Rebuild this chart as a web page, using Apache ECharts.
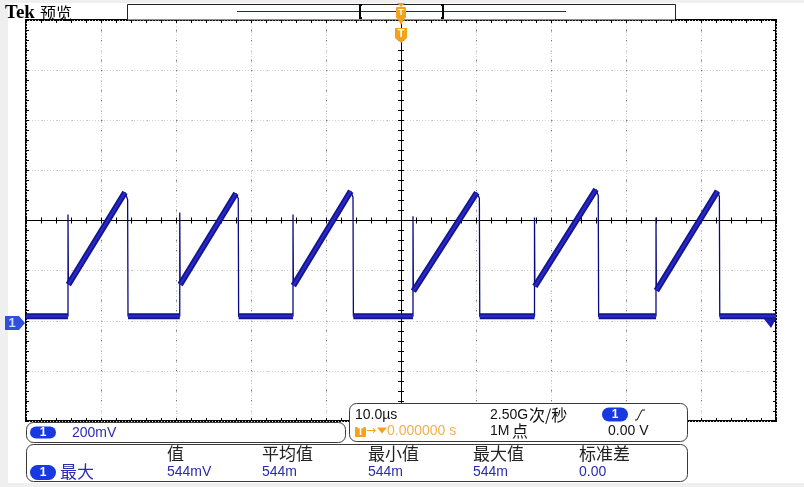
<!DOCTYPE html>
<html>
<head>
<meta charset="utf-8">
<title>Tek 预览</title>
<script src="https://cdn.jsdelivr.net/npm/echarts@6.0.0/dist/echarts.min.js"></script>
<style>
  html, body { margin: 0; padding: 0; background: #fff; }
  #scope { width: 804px; height: 487px; }
</style>
</head>
<body>
<div id="scope"></div>
<script>
// 10.0us/div x 10 div, trigger at centre
var timeTicks = [-50, -40, -30, -20, -10, 0, 10, 20, 30, 40, 50];
// 200mV/div x 8 div, ch1 ground sits 2 div below centre
var voltTicks = [-0.4, -0.2, 0, 0.2, 0.4, 0.6, 0.8, 1.0, 1.2];
var divTicks = [-4, -3, -2, -1, 0, 1, 2, 3, 4];

// ch1 sawtooth (us, V)
var baseLevel = 0.018;
var riseTimes       = [-44.4, -29.5, -14.4, 1.6, 17.8, 34.0];
var spikeLevels     = [0.424, 0.432, 0.424, 0.417, 0.412, 0.412];
var rampStartLevels = [0.144, 0.144, 0.140, 0.118, 0.137, 0.120];
var peakTimes       = [-36.8, -22.0, -6.7, 10.1, 26.0, 42.2];
var peakLevels      = [0.512, 0.508, 0.517, 0.511, 0.524, 0.517];
var fallTimes       = [-36.45, -21.7, -6.4, 10.45, 26.3, 42.45];
var fallTopLevels   = [0.484, 0.488, 0.492, 0.490, 0.500, 0.496];

// measurement readout
var measHeads = ['值', '平均值', '最小值', '最大值', '标准差'];
var measValues = ['544mV', '544m', '544m', '544m', '0.00'];

var LATIN = '"Liberation Sans", "Noto Sans CJK SC", sans-serif';
var CJK = '"Noto Sans CJK SC", "Liberation Sans", sans-serif';
var ORANGE = '#f4a21c';
var VALUE_BLUE = '#2b2bb0';

var tStart = timeTicks[0], tEnd = timeTicks[timeTicks.length - 1];

// thin edge trace (whole sweep) and thick noisy band (flat parts + ramps)
var edgeTrace = [[tStart, baseLevel]];
var bandTrace = [[tStart, baseLevel]];
riseTimes.forEach(function (t, i) {
    edgeTrace.push([t, baseLevel], [t, spikeLevels[i]], [t + 0.05, rampStartLevels[i]],
        [peakTimes[i], peakLevels[i]], [fallTimes[i], fallTopLevels[i]], [fallTimes[i] + 0.05, baseLevel]);
    bandTrace.push([t, baseLevel], [t, '-'], [t + 0.05, rampStartLevels[i]],
        [peakTimes[i], peakLevels[i]], [fallTimes[i], '-'], [fallTimes[i] + 0.05, baseLevel]);
});
edgeTrace.push([tEnd, baseLevel]);
bandTrace.push([tEnd, baseLevel]);

function plainAxis(extra) {
    var a = {
        type: 'value', gridIndex: 0,
        axisLabel: { show: false },
        axisLine: { show: false, onZero: false },
        axisTick: { show: false },
        minorTick: { show: false },
        splitLine: { show: false }
    };
    for (var k in extra) a[k] = extra[k];
    return a;
}
function ticks(inside) {
    return { show: true, inside: inside, length: 3, lineStyle: { color: '#000', width: 1 } };
}
var minor = { show: true, splitNumber: 5, length: 3, lineStyle: { color: '#000', width: 1 } };

var tX = { min: tStart, max: tEnd, interval: timeTicks[1] - timeTicks[0] };
var vY = { min: voltTicks[0], max: voltTicks[voltTicks.length - 1], interval: 0.2 };
var dY = { min: divTicks[0], max: divTicks[divTicks.length - 1], interval: 1 };

function withRange(r, extra) {
    var o = { min: r.min, max: r.max, interval: r.interval };
    for (var k in extra) o[k] = extra[k];
    return plainAxis(o);
}
var centreLine = function (idx) {
    return { show: true, onZero: true, onZeroAxisIndex: idx, lineStyle: { color: '#000', width: 1 } };
};

var xAxes = [
    withRange(tX, { position: 'bottom',
        splitLine: { show: true, lineStyle: { color: '#7a7a7a', width: 1, type: [1.5, 8.5] } } }),
    withRange(tX, { position: 'bottom', axisLine: centreLine(1), axisTick: ticks(false), minorTick: minor }),
    withRange(tX, { position: 'bottom', axisLine: centreLine(1), axisTick: ticks(true), minorTick: minor }),
    withRange(tX, { position: 'top', axisTick: ticks(true), minorTick: minor }),
    withRange(tX, { position: 'bottom', axisTick: ticks(true), minorTick: minor }),
    withRange(tX, { gridIndex: 1, position: 'bottom',
        splitLine: { show: true, lineStyle: { color: '#d2d2d2', width: 1, type: [1, 2] } } })
];
var yAxes = [
    withRange(vY, { position: 'left',
        splitLine: { show: true, lineStyle: { color: '#7a7a7a', width: 1, type: [1.5, 13.5] } } }),
    withRange(dY, { position: 'left', axisLine: centreLine(0), axisTick: ticks(false), minorTick: minor }),
    withRange(dY, { position: 'left', axisLine: centreLine(0), axisTick: ticks(true), minorTick: minor }),
    withRange(dY, { position: 'left', axisTick: ticks(true), minorTick: minor }),
    withRange(dY, { position: 'right', axisTick: ticks(true), minorTick: minor }),
    withRange(dY, { gridIndex: 1, position: 'left',
        splitLine: { show: true, lineStyle: { color: '#d2d2d2', width: 1, type: [1, 2] } } })
];

function text(x, y, s, font, color, align) {
    return { type: 'text', z: 111, x: x, y: y, silent: true,
        style: { text: s, font: font, fill: color, align: align || 'left', verticalAlign: 'middle' } };
}
function box(x, y, w, h) {
    return { type: 'rect', z: 100, silent: true, shape: { x: x, y: y, width: w, height: h, r: 7 },
        style: { fill: '#fff', stroke: '#3a3a3a', lineWidth: 1 } };
}
function pill(x, y, w, h) {
    return [
        { type: 'rect', z: 110, silent: true, shape: { x: x, y: y, width: w, height: h, r: h / 2 },
            style: { fill: '#1838e0' } },
        text(x + w / 2, y + h / 2 + 0.5, '1', 'bold 12px "Liberation Sans"', '#fff', 'center')
    ];
}

var decor = [
    // window margins
    { type: 'rect', z: 90, silent: true, shape: { x: 0, y: 0, width: 8, height: 487 }, style: { fill: '#efefef' } },
    { type: 'rect', z: 90, silent: true, shape: { x: 0, y: 0, width: 804, height: 3 }, style: { fill: '#efefef' } },
    { type: 'rect', z: 90, silent: true, shape: { x: 0, y: 483, width: 804, height: 4 }, style: { fill: '#efefef' } },

    text(5, 13, 'Tek', 'bold 19px "Liberation Serif", serif', '#000'),
    text(40, 12.5, '预览', '16px ' + CJK, '#000'),

    // record bar
    { type: 'rect', z: 100, silent: true, shape: { x: 127.5, y: 4.5, width: 548, height: 15.5 },
        style: { fill: '#fff', stroke: '#222', lineWidth: 1 } },
    { type: 'line', z: 105, silent: true, shape: { x1: 237, y1: 11.5, x2: 566, y2: 11.5 },
        style: { stroke: '#2020a0', lineWidth: 1 } },
    { type: 'polyline', z: 106, silent: true, shape: { points: [[362, 5], [360, 5], [360, 18], [362, 18]] },
        style: { stroke: '#000', lineWidth: 2, fill: null } },
    { type: 'polyline', z: 106, silent: true, shape: { points: [[441, 5], [443, 5], [443, 18], [441, 18]] },
        style: { stroke: '#000', lineWidth: 2, fill: null } },
    { type: 'polygon', z: 110, silent: true, shape: { points: [[397, 3], [405, 3], [401, 7]] }, style: { fill: ORANGE } },
    { type: 'rect', z: 110, silent: true, shape: { x: 396, y: 7, width: 10, height: 11, r: 1 }, style: { fill: ORANGE } },
    { type: 'polygon', z: 110, silent: true, shape: { points: [[397, 18], [405, 18], [401, 25]] }, style: { fill: ORANGE } },
    text(401, 12.5, 'T', 'bold 9px "Liberation Sans"', '#fff', 'center'),

    // trigger position marker
    { type: 'polygon', z: 110, silent: true,
        shape: { points: [[395, 28], [407, 28], [407, 38], [401, 43], [395, 38]] }, style: { fill: ORANGE } },
    text(401, 34, 'T', 'bold 11px "Liberation Sans"', '#fff', 'center'),

    // ch1 ground marker
    { type: 'polygon', z: 110, silent: true,
        shape: { points: [[5, 316], [19, 316], [25, 323], [19, 330], [5, 330]] }, style: { fill: '#3050dc' } },
    text(12, 323.5, '1', 'bold 13px "Liberation Sans"', '#cddcff', 'center'),
    { type: 'polygon', z: 110, silent: true,
        shape: { points: [[764, 319], [776, 319], [771, 328]] }, style: { fill: '#1c1cb0' } },

    // readout boxes
    box(26.5, 422.5, 319, 20),
    box(349.5, 403.5, 338, 38),
    box(26.5, 444.5, 661, 37)
];

decor = decor.concat(pill(30, 426.5, 26, 12));
decor.push(text(72, 433, '200mV', '14px ' + LATIN, VALUE_BLUE));

decor.push(text(355, 415.5, '10.0µs', '14px ' + LATIN, '#111'));
decor.push(text(490, 415.5, '2.50G', '14px ' + LATIN, '#111'));
decor.push(text(529, 415, '次/秒', '16px ' + CJK, '#111'));
decor = decor.concat(pill(602, 407.5, 26, 14));
decor.push({ type: 'polyline', z: 111, silent: true, shape: { points: [[635, 420], [637, 420], [642, 410], [645, 410]] },
    style: { stroke: '#111', lineWidth: 1, fill: null } });
decor.push({ type: 'rect', z: 110, silent: true, shape: { x: 355, y: 427, width: 11, height: 10, r: 1 }, style: { fill: ORANGE } });
decor.push(text(360.5, 432, 'T', 'bold 10px "Liberation Sans"', '#fff', 'center'));
decor.push(text(366, 431, '→', '12px "DejaVu Sans"', ORANGE));
decor.push({ type: 'polygon', z: 110, silent: true, shape: { points: [[377, 427.5], [387, 427.5], [382, 433.5]] }, style: { fill: ORANGE } });
decor.push(text(387, 431.5, '0.000000 s', '14px ' + LATIN, '#f2b04c'));
decor.push(text(490, 431.5, '1M', '14px ' + LATIN, '#111'));
decor.push(text(512, 431, '点', '16px ' + CJK, '#111'));
decor.push(text(608, 431.5, '0.00 V', '14px ' + LATIN, '#111'));

var measX = [167, 262, 368, 473, 579];
measHeads.forEach(function (h, i) {
    decor.push(text(measX[i], 453.5, h, '17px ' + CJK, '#222'));
    decor.push(text(measX[i], 472.5, measValues[i], '14px ' + LATIN, VALUE_BLUE));
});
decor = decor.concat(pill(30, 465, 26, 15));
decor.push(text(60, 472, '最大', '17px ' + CJK, VALUE_BLUE));

var option = {
    animation: false,
    backgroundColor: '#fff',
    grid: [
        { left: 26, top: 20, width: 750, height: 401, show: true, borderColor: '#000', borderWidth: 2,
            backgroundColor: 'transparent', containLabel: false, outerBoundsMode: 'none' },
        { left: 26, top: 20, width: 750, height: 401, show: false, containLabel: false, outerBoundsMode: 'none' }
    ],
    xAxis: xAxes,
    yAxis: yAxes,
    series: [
        { type: 'line', name: 'edges', xAxisIndex: 0, yAxisIndex: 0, data: edgeTrace, symbol: 'none',
            silent: true, z: 3, lineStyle: { color: '#0a0a80', width: 1.3 } },
        { type: 'line', name: 'band', xAxisIndex: 0, yAxisIndex: 0, data: bandTrace, symbol: 'none',
            silent: true, z: 4, lineStyle: { color: '#14148c', width: 6, cap: 'butt' } },
        { type: 'line', name: 'band core', xAxisIndex: 0, yAxisIndex: 0, data: bandTrace, symbol: 'none',
            silent: true, z: 5, lineStyle: { color: '#2828c8', width: 2.5 } }
    ],
    graphic: decor
};

var chart = echarts.init(document.getElementById('scope'));
chart.setOption(option);
</script>
</body>
</html>
